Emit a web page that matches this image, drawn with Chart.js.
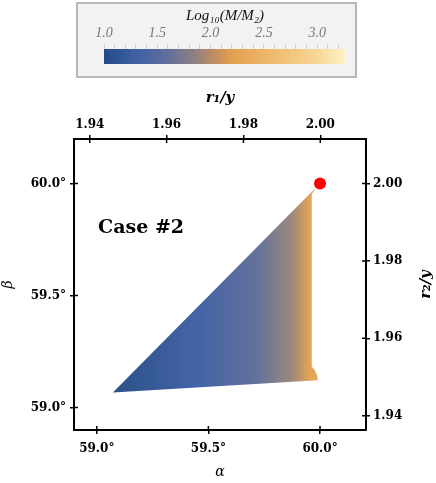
<!DOCTYPE html>
<html>
<head>
<meta charset="utf-8">
<script src="https://cdn.jsdelivr.net/npm/chart.js@4"></script>
<style>
  body { margin: 0; background: #fff; }
  #wrap { position: relative; width: 436px; height: 483px; }
  #mainChart { position: absolute; left: 0; top: 0; }
  #cbBox { position: absolute; left: 76px; top: 2px; width: 281px; height: 76px;
           box-sizing: border-box; border: 2px solid #b7b7b7; background: #f2f2f2; }
</style>
</head>
<body>
<div id="wrap">
  <canvas id="mainChart" width="436" height="483"></canvas>
  <div id="cbBox"><canvas id="cbChart" width="277" height="72"></canvas></div>
</div>
<script>
// Case #2 region (alpha, beta in degrees)
const regionAlpha = [59.072, 59.982, 59.963, 59.963, 59.976, 59.985, 59.989, 59.990, 59.072];
const regionBeta  = [59.067, 59.982, 59.952, 59.183, 59.168, 59.150, 59.135, 59.122, 59.067];
const equalPoint = [{ x: 60.0, y: 60.0 }];

// tick values
const alphaTicks = [59.0, 59.5, 60.0];
const betaTicks = [59.0, 59.5, 60.0];
const r1Ticks = [1.94, 1.96, 1.98, 2.00];
const r2Ticks = [1.94, 1.96, 1.98, 2.00];

// colour bar: Log10(M/M2)
const cbLabels = [1.0, 1.5, 2.0, 2.5, 3.0];
const cbRange = [1.0, 3.27];
const cmapVals = [1.0, 1.3, 1.55, 1.85, 2.05, 2.2, 2.6, 3.0, 3.27];
const cmapColors = ['#234b86', '#4060a3', '#5a6ca0', '#8e8082', '#c48f5f', '#e39f4e', '#efbb6f', '#f7d796', '#fff3c9'];

// fill of the region, coloured along alpha
const fillAlpha = [59.07, 59.46, 59.73, 59.88, 59.95, 59.99];
const fillColors = ['#2b5189', '#4464a7', '#66739a', '#a08a7a', '#e1a256', '#e9aa5c'];

const serif = '"DejaVu Serif", serif';
const tickFont = { family: serif, size: 12, weight: 'bold' };

function gradientFill(chart, scaleId, vals, colors) {
  const { chartArea, scales, ctx } = chart;
  if (!chartArea) return colors[0];
  const s = scales[scaleId];
  const x0 = s.getPixelForValue(vals[0]);
  const x1 = s.getPixelForValue(vals[vals.length - 1]);
  const g = ctx.createLinearGradient(x0, 0, x1, 0);
  vals.forEach((v, i) => g.addColorStop((v - vals[0]) / (vals[vals.length - 1] - vals[0]), colors[i]));
  return g;
}

// short tick marks pointing into the plot, the "Case #2" label, right axis title
const insideTicks = {
  id: 'insideTicks',
  afterDraw(chart) {
    const { ctx, chartArea: a, scales } = chart;
    ctx.save();
    ctx.strokeStyle = '#000';
    ctx.lineWidth = 1.5;
    ctx.beginPath();
    scales.x.ticks.forEach(t => { const p = scales.x.getPixelForValue(t.value); ctx.moveTo(p, a.bottom); ctx.lineTo(p, a.bottom - 4); });
    scales.x2.ticks.forEach(t => { const p = scales.x2.getPixelForValue(t.value); ctx.moveTo(p, a.top); ctx.lineTo(p, a.top + 4); });
    scales.y.ticks.forEach(t => { const p = scales.y.getPixelForValue(t.value); ctx.moveTo(a.left, p); ctx.lineTo(a.left + 4, p); });
    scales.y2.ticks.forEach(t => { const p = scales.y2.getPixelForValue(t.value); ctx.moveTo(a.right, p); ctx.lineTo(a.right - 4, p); });
    ctx.stroke();
    ctx.fillStyle = '#000';
    ctx.font = 'bold 19px ' + serif;
    ctx.textBaseline = 'middle';
    ctx.fillText('Case #2', scales.x.getPixelForValue(59.006), scales.y.getPixelForValue(59.80));
    // right title, reading bottom to top
    ctx.translate(scales.y2.right - 10, (a.top + a.bottom) / 2);
    ctx.rotate(-Math.PI / 2);
    ctx.textAlign = 'center';
    ctx.font = 'italic bold 15px ' + serif;
    ctx.fillText('r₂/y', 0, 0);
    ctx.restore();
  }
};

function axisGrid() {
  return { drawOnChartArea: false, drawTicks: true, tickLength: 4, color: '#000', lineWidth: 1.5 };
}

new Chart(document.getElementById('mainChart'), {
  type: 'scatter',
  data: {
    datasets: [{
      data: regionAlpha.map((a, i) => ({ x: a, y: regionBeta[i] })),
      showLine: true,
      fill: 'shape',
      borderWidth: 0,
      pointRadius: 0,
      borderColor: 'rgba(0,0,0,0)',
      backgroundColor: c => gradientFill(c.chart, 'x', fillAlpha, fillColors)
    }, {
      data: equalPoint,
      pointRadius: 6,
      pointBackgroundColor: '#ff0000',
      pointBorderWidth: 0
    }]
  },
  options: {
    responsive: false,
    animation: false,
    layout: { padding: { top: 85, left: 0, right: 0, bottom: 0 } },
    plugins: { legend: { display: false }, tooltip: { enabled: false } },
    scales: {
      x: {
        type: 'linear', position: 'bottom', min: 58.898, max: 60.206,
        afterBuildTicks: s => { s.ticks = alphaTicks.map(v => ({ value: v })); },
        afterFit: s => { s.height = 53; },
        ticks: { font: tickFont, color: '#000', padding: 8, callback: v => v.toFixed(1) + '°', maxRotation: 0 },
        grid: axisGrid(),
        border: { display: true, color: '#000', width: 2 },
        title: { display: true, text: 'α', color: '#000', font: { family: serif, size: 14, style: 'italic' }, padding: { top: 0, bottom: 2 } }
      },
      x2: {
        type: 'linear', position: 'top', min: 1.9359, max: 2.0119,
        afterBuildTicks: s => { s.ticks = r1Ticks.map(v => ({ value: v })); },
        afterFit: s => { s.height = 54; },
        ticks: { font: tickFont, color: '#000', padding: 3, callback: v => v.toFixed(2), maxRotation: 0 },
        grid: axisGrid(),
        border: { display: true, color: '#000', width: 2 },
        title: { display: true, text: 'r₁/y', color: '#000', font: { family: serif, size: 15, style: 'italic', weight: 'bold' }, padding: { top: 4, bottom: 0 } }
      },
      y: {
        type: 'linear', position: 'left', min: 58.9, max: 60.199,
        afterBuildTicks: s => { s.ticks = betaTicks.map(v => ({ value: v })); },
        afterFit: s => { s.width = 74; },
        ticks: { font: tickFont, color: '#000', padding: 4, callback: v => v.toFixed(1) + '°' },
        grid: axisGrid(),
        border: { display: true, color: '#000', width: 2 },
        title: { display: true, text: 'β', color: '#000', font: { family: serif, size: 14, style: 'italic' }, padding: { top: 0, bottom: 0 } }
      },
      y2: {
        type: 'linear', position: 'right', min: 1.9363, max: 2.0115,
        afterBuildTicks: s => { s.ticks = r2Ticks.map(v => ({ value: v })); },
        afterFit: s => { s.width = 70; },
        ticks: { font: tickFont, color: '#000', padding: 3, callback: v => v.toFixed(2) },
        grid: axisGrid(),
        border: { display: true, color: '#000', width: 2 },
        title: { display: false }
      }
    }
  },
  plugins: [insideTicks]
});

// colour bar
new Chart(document.getElementById('cbChart'), {
  type: 'bar',
  data: {
    labels: [''],
    datasets: [{
      data: [cbRange],
      barPercentage: 1,
      categoryPercentage: 1,
      borderWidth: 0,
      backgroundColor: c => gradientFill(c.chart, 'x', cmapVals, cmapColors)
    }]
  },
  options: {
    indexAxis: 'y',
    responsive: false,
    animation: false,
    layout: { padding: { top: 0, left: 26, right: 9, bottom: 12 } },
    plugins: { legend: { display: false }, tooltip: { enabled: false } },
    scales: {
      x: {
        type: 'linear', position: 'top', min: cbRange[0], max: cbRange[1],
        afterBuildTicks: s => {
          const t = [];
          for (let v = cbRange[0]; v <= cbRange[1] + 1e-9; v += 0.1) t.push({ value: Math.round(v * 10) / 10 });
          s.ticks = t;
        },
        afterFit: s => { s.height = 45; },
        ticks: {
          autoSkip: false, maxRotation: 0, padding: 2, color: '#777',
          font: { family: '"Liberation Serif", serif', size: 14, style: 'italic' },
          callback: v => cbLabels.some(l => Math.abs(l - v) < 1e-6) ? v.toFixed(1) : ''
        },
        grid: { drawOnChartArea: false, tickLength: 5, color: '#cfcfcf', lineWidth: 1 },
        border: { display: false },
        title: { display: true, text: 'Log₁₀(M/M₂)', color: '#111', font: { family: '"Liberation Serif", serif', size: 15, style: 'italic' }, padding: { top: 3, bottom: 0 } }
      },
      y: { display: false }
    }
  }
});
</script>
</body>
</html>
